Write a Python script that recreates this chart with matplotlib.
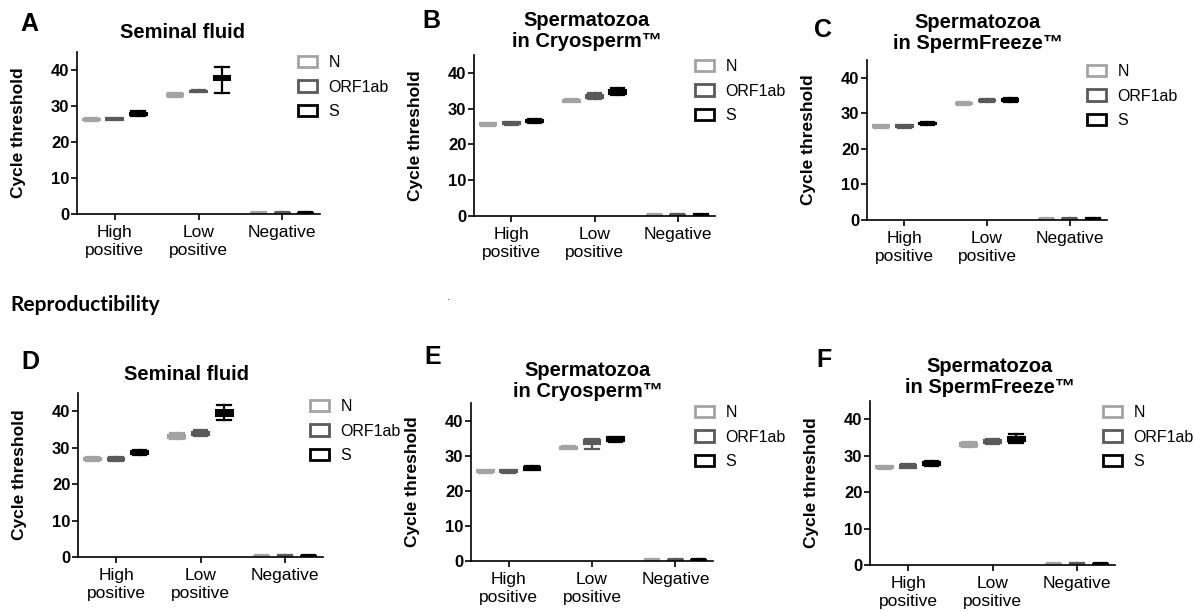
import matplotlib
matplotlib.use('Agg')
import matplotlib.pyplot as plt
from matplotlib.patches import Patch

plt.rcParams['font.family'] = ['Liberation Sans', 'DejaVu Sans']

W, H = 1193, 611

categories = ['High\npositive', 'Low\npositive', 'Negative']
genes = ['N', 'ORF1ab', 'S']
gene_colors = ['#a3a3a3', '#5a5a5a', '#000000']

# each entry: [whisker low, q1, median, q3, whisker high] for High, Low, Negative
NEG = [0.1, 0.2, 0.3, 0.4, 0.5]

A_N = [[25.8, 26.0, 26.2, 26.4, 26.6], [32.6, 32.8, 33.0, 33.3, 33.6], NEG]
A_ORF = [[26.0, 26.2, 26.4, 26.6, 26.8], [33.8, 33.9, 34.1, 34.3, 34.5], NEG]
A_S = [[27.2, 27.5, 27.8, 28.1, 28.5], [33.5, 37.2, 37.8, 38.4, 40.9], NEG]

B_N = [[25.2, 25.4, 25.6, 25.9, 26.1], [31.8, 32.0, 32.2, 32.4, 32.6], NEG]
B_ORF = [[25.5, 25.7, 25.9, 26.2, 26.4], [32.8, 33.1, 33.5, 33.9, 34.3], NEG]
B_S = [[26.0, 26.2, 26.4, 26.8, 27.0], [33.7, 34.1, 34.7, 35.2, 35.8], NEG]

C_N = [[26.0, 26.2, 26.4, 26.6, 26.8], [32.3, 32.5, 32.8, 33.0, 33.2], NEG]
C_ORF = [[26.0, 26.1, 26.3, 26.6, 26.7], [33.2, 33.4, 33.6, 33.8, 34.0], NEG]
C_S = [[26.7, 26.9, 27.1, 27.3, 27.5], [33.1, 33.4, 33.7, 34.0, 34.3], NEG]

D_N = [[26.4, 26.6, 26.9, 27.2, 27.4], [32.4, 32.6, 33.0, 33.4, 33.9], NEG]
D_ORF = [[26.3, 26.6, 26.9, 27.2, 27.4], [33.3, 33.6, 34.0, 34.4, 34.8], NEG]
D_S = [[28.1, 28.3, 28.7, 29.0, 29.3], [37.6, 38.6, 39.4, 40.2, 41.6], NEG]

E_N = [[25.1, 25.3, 25.5, 25.8, 26.0], [31.9, 32.0, 32.3, 32.6, 32.8], NEG]
E_ORF = [[25.1, 25.3, 25.5, 25.8, 26.0], [31.9, 33.4, 34.1, 34.6, 34.8], NEG]
E_S = [[25.8, 26.0, 26.4, 26.9, 27.1], [33.8, 34.2, 34.8, 35.2, 35.4], NEG]

F_N = [[26.3, 26.5, 26.8, 27.1, 27.3], [32.5, 32.7, 33.1, 33.5, 33.7], NEG]
F_ORF = [[26.5, 26.7, 27.0, 27.4, 27.6], [33.3, 33.5, 33.9, 34.3, 34.5], NEG]
F_S = [[27.3, 27.5, 27.9, 28.3, 28.5], [33.5, 34.0, 34.6, 35.1, 35.9], NEG]

titles = ['Seminal fluid', 'Spermatozoa\nin Cryosperm\u2122', 'Spermatozoa\nin SpermFreeze\u2122',
          'Seminal fluid', 'Spermatozoa\nin Cryosperm\u2122', 'Spermatozoa\nin SpermFreeze\u2122']
letters = ['A', 'B', 'C', 'D', 'E', 'F']
panel_data = [(A_N, A_ORF, A_S), (B_N, B_ORF, B_S), (C_N, C_ORF, C_S),
              (D_N, D_ORF, D_S), (E_N, E_ORF, E_S), (F_N, F_ORF, F_S)]

# layout (pixels): axes (left, top, right, bottom), letter center, title center, legend top-left
axes_px = [(77, 52, 320, 214), (474, 55, 715, 216), (867, 60, 1107, 220),
           (78, 393, 323, 557), (471, 403, 713, 561), (870, 401, 1115, 565)]
letter_px = [(29, 24), (431, 21), (823, 30), (30, 362), (433, 357), (824, 360)]
title_px = [(183, 33), (587, 31), (978, 33), (187, 375), (588, 381), (990, 377)]
legend_px = [(298, 55), (695, 59), (1087, 64), (310, 399), (695, 405), (1103, 405)]

offsets = [-0.28, 0.0, 0.28]

fig = plt.figure(figsize=(W / 100, H / 100), dpi=100)


def frect(l, t, r, b):
    return [l / W, 1 - b / H, (r - l) / W, (b - t) / H]


for p in range(6):
    ax = fig.add_axes(frect(*axes_px[p]))
    for gi, gdata in enumerate(panel_data[p]):
        c = gene_colors[gi]
        stats = []
        for vals in gdata:
            lo, q1, med, q3, hi = vals
            stats.append(dict(whislo=lo, q1=q1, med=med, q3=q3, whishi=hi, fliers=[]))
        pos = [ci + offsets[gi] for ci in range(len(categories))]
        ax.bxp(stats, positions=pos, widths=0.2, capwidths=0.16, patch_artist=True,
               showfliers=False, manage_ticks=False,
               boxprops=dict(facecolor=c, edgecolor=c, linewidth=1.5),
               whiskerprops=dict(color=c, linewidth=1.6),
               capprops=dict(color=c, linewidth=1.6),
               medianprops=dict(color=c, linewidth=1.5))
    ax.set_xlim(-0.45, 2.45)
    ax.set_ylim(0, 45)
    ax.set_yticks([0, 10, 20, 30, 40])
    ax.set_xticks(range(len(categories)))
    ax.set_xticklabels(categories, fontsize=12.5, linespacing=1.2)
    for lab in ax.get_yticklabels():
        lab.set_fontweight('bold')
        lab.set_fontsize(12)
    for s in ['top', 'right']:
        ax.spines[s].set_visible(False)
    for s in ['left', 'bottom']:
        ax.spines[s].set_linewidth(1.2)
    ax.tick_params(axis='both', length=4, width=1.2, direction='out')
    ax.tick_params(axis='y', pad=1.5)
    ax.tick_params(axis='x', pad=4)
    ax.set_ylabel('Cycle threshold', fontsize=12.5, fontweight='bold', labelpad=18)

    lx, ly = letter_px[p]
    fig.text(lx / W, 1 - ly / H, letters[p], fontsize=18, fontweight='bold',
             ha='center', va='center')
    tx, ty = title_px[p]
    fig.text(tx / W, 1 - ty / H, titles[p], fontsize=14.5, fontweight='bold',
             ha='center', va='center', linespacing=1.1)

    handles = [Patch(facecolor='white', edgecolor=gene_colors[i], linewidth=2) for i in range(3)]
    gx, gy = legend_px[p]
    fig.legend(handles, genes, loc='upper left', bbox_to_anchor=(gx / W, 1 - gy / H),
               frameon=False, borderpad=0, borderaxespad=0, handlelength=1.2,
               handleheight=0.7, handletextpad=0.7, labelspacing=0.6, fontsize=11.5)

fig.text(10 / W, 1 - 305 / H, 'Reproductibility', fontsize=15, fontweight='bold',
         ha='left', va='center', family=['Lato', 'DejaVu Sans'])
fig.text(448 / W, 1 - 297 / H, '.', fontsize=8, ha='center', va='center', color='#333333')

fig.savefig('out.png', dpi=100)
